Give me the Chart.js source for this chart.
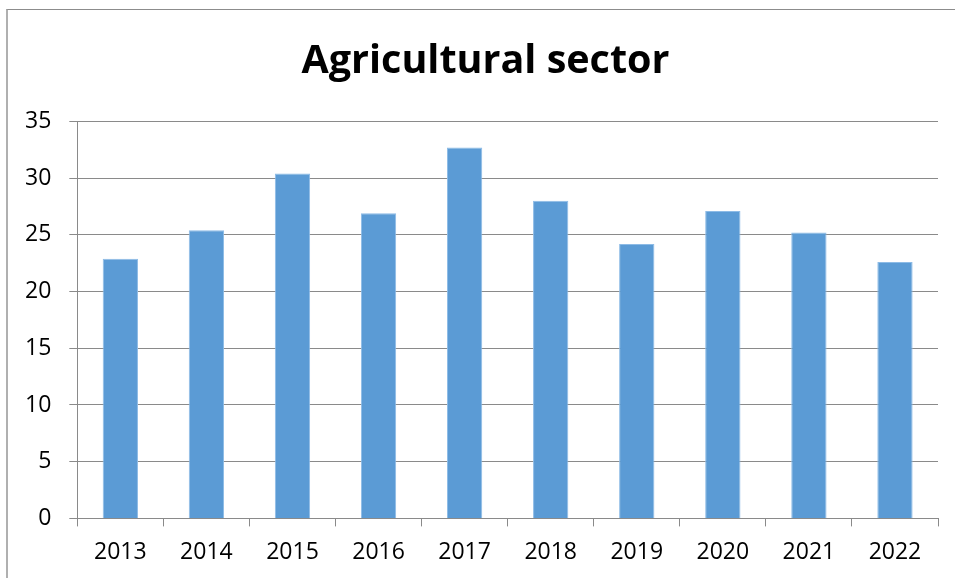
<!DOCTYPE html>
<html>
<head>
<meta charset="utf-8">
<title>Agricultural sector</title>
<script src="https://cdn.jsdelivr.net/npm/chart.js@4"></script>
<style>
  html, body { margin: 0; padding: 0; background: #fff; }
  #wrap { position: relative; width: 955px; height: 578px; overflow: hidden; }
  #frame {
    position: absolute; left: 6px; top: 9px; width: 960px; height: 580px;
    border-top: 1px solid #8c8c8c; border-left: 2px solid #b0b0b0;
    box-sizing: border-box; pointer-events: none;
  }
  #chart { position: absolute; left: 0; top: 0; }
</style>
</head>
<body>
<div id="wrap">
  <div id="frame"></div>
  <canvas id="chart" width="955" height="578"></canvas>
</div>
<script>
'use strict';

// yearly values, share of the agricultural sector
var years = ['2013', '2014', '2015', '2016', '2017', '2018', '2019', '2020', '2021', '2022'];
var shares = [22.9, 25.4, 30.4, 26.9, 32.7, 28.0, 24.2, 27.1, 25.2, 22.6];
var yTicks = [0, 5, 10, 15, 20, 25, 30, 35];

var gridColor = '#8a8a8a';
var labelFont = { family: "'Open Sans', sans-serif", size: 23 };

var chartData = {
    labels: years,
    datasets: [
      {
          label: 'Agricultural sector',
          data: shares,
          backgroundColor: '#5b9bd5',
          borderColor: '#8dbbe6',
          borderWidth: { top: 1, left: 1, right: 1, bottom: 0 },
          barPercentage: 0.41,
          categoryPercentage: 1.0
      }
    ]
};

// nudge the title a bit to the right so it sits over the middle of the frame
var titleShift = {
    id: 'titleShift',
    afterLayout: function (chart) {
        var tb = chart.titleBlock;
        if (tb) {
            tb.left += 13;
            tb.right += 13;
        }
    }
};

var chartOptions = {
    responsive: false,
    animation: false,
    layout: { padding: { left: 7, right: 17, top: 0, bottom: 0 } },
    plugins: {
        legend: { display: false },
        tooltip: { enabled: false },
        title: {
            display: true,
            text: 'Agricultural sector',
            color: '#000',
            font: { family: "'Open Sans', sans-serif", size: 39.5, weight: 'bold' },
            padding: { top: 38, bottom: 36 }
        }
    },
    scales: {
        x: {
            grid: {
                offset: true,
                drawOnChartArea: false,
                drawTicks: true,
                tickLength: 8,
                color: gridColor
            },
            border: { display: true, color: gridColor, width: 1 },
            ticks: { color: '#000', font: labelFont, padding: 12, maxRotation: 0 }
        },
        y: {
            min: 0,
            max: 35,
            afterBuildTicks: function (axis) {
                axis.ticks = yTicks.map(function (v) { return { value: v }; });
            },
            grid: {
                color: gridColor,
                lineWidth: 1,
                drawTicks: true,
                tickLength: 8
            },
            border: { display: true, color: gridColor, width: 1 },
            ticks: { color: '#000', font: labelFont, padding: 18 }
        }
    }
};

var ctx = document.getElementById('chart').getContext('2d');
new Chart(ctx, { type: 'bar', data: chartData, options: chartOptions, plugins: [titleShift] });
</script>
</body>
</html>
